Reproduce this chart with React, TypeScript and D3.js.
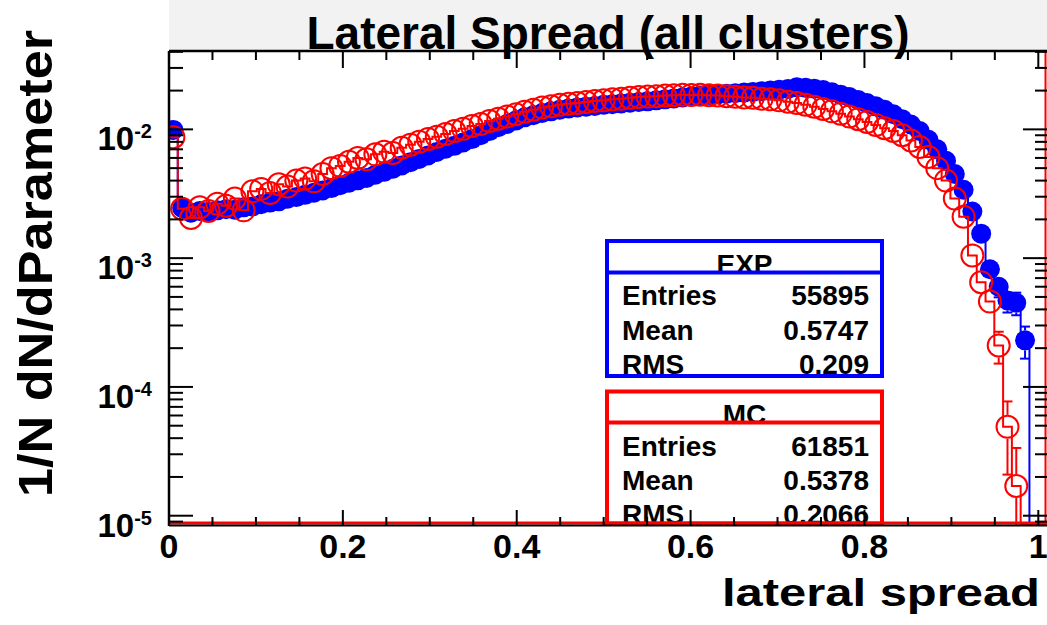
import React from "react";
import * as d3 from "d3";

const W = 1047;
const H = 625;

// histogram binning: 100 bins on [0, 1.01]
const xMin = 0;
const xMax = 1.01;
const nBins = 100;
const yMin = 8.47e-6;
const yMax = 0.0406;

const title = "Lateral Spread (all clusters)";
const xTitle = "lateral spread";
const yTitle = "1/N dN/dParameter";
const xTickValues = [0, 0.2, 0.4, 0.6, 0.8, 1];
const xTickLabels = ["0", "0.2", "0.4", "0.6", "0.8", "1"];
const yTickExps = [-5, -4, -3, -2];

// EXP (blue, filled circles) normalized bin contents
const expValues = [
  0.0099, 0.00245, 0.00225, 0.00232, 0.00228, 0.00235, 0.0024, 0.00238, 0.00248, 0.00252,
  0.00262, 0.0027, 0.00276, 0.00289, 0.00298, 0.0031, 0.00322, 0.00335, 0.0035, 0.00368,
  0.00385, 0.00402, 0.0042, 0.00445, 0.00468, 0.00495, 0.00525, 0.00556, 0.0059, 0.00628,
  0.00668, 0.00708, 0.00745, 0.0079, 0.0084, 0.009, 0.0097, 0.0104, 0.011, 0.0117,
  0.0124, 0.0129, 0.0134, 0.0138, 0.0142, 0.0145, 0.0148, 0.015, 0.0152, 0.0155,
  0.0157, 0.0159, 0.0161, 0.0163, 0.0165, 0.0168, 0.0171, 0.0174, 0.0177, 0.018,
  0.0183, 0.0185, 0.0187, 0.0189, 0.0191, 0.0193, 0.0195, 0.0198, 0.02, 0.0203,
  0.0206, 0.0212, 0.021, 0.0207, 0.0202, 0.0194, 0.0186, 0.0178, 0.0169, 0.016,
  0.0151, 0.0142, 0.0131, 0.012, 0.0109, 0.0097, 0.0083, 0.007, 0.0057, 0.0045,
  0.0034, 0.0023, 0.00155, 0.00082, 0.0006, 0.00047, 0.00045, 0.00023, 0, 0,
];

// MC (red, open circles) normalized bin contents
const mcValues = [
  0.0087, 0.00242, 0.00205, 0.00248, 0.00232, 0.00265, 0.00255, 0.0029, 0.00235, 0.0033,
  0.00345, 0.0032, 0.00375, 0.0036, 0.004, 0.00415, 0.00395, 0.0045, 0.005, 0.0052,
  0.0056, 0.006, 0.00585, 0.0064, 0.0067, 0.00655, 0.0072, 0.0076, 0.008, 0.0084,
  0.00875, 0.0092, 0.0097, 0.0101, 0.0106, 0.011, 0.0116, 0.0121, 0.0126, 0.0131,
  0.0137, 0.0142, 0.0148, 0.0151, 0.0155, 0.0158, 0.016, 0.0163, 0.0166, 0.0168,
  0.0171, 0.0173, 0.0176, 0.0178, 0.018, 0.0181, 0.0183, 0.0184, 0.0186, 0.0185,
  0.0186, 0.0184, 0.0183, 0.0181, 0.0179, 0.0177, 0.0176, 0.0173, 0.0171, 0.0168,
  0.0164, 0.016, 0.0155, 0.015, 0.0144, 0.0138, 0.0132, 0.0126, 0.012, 0.0114,
  0.0108, 0.0102, 0.0097, 0.009, 0.0082, 0.0073, 0.0061, 0.005, 0.004, 0.0029,
  0.0021, 0.00105, 0.00065, 0.00046, 0.00021, 0.000049, 0.000017, 0, 0, 0,
];

const expStats = { name: "EXP", entries: "55895", mean: "0.5747", rms: "0.209" };
const mcStats = { name: "MC", entries: "61851", mean: "0.5378", rms: "0.2066" };
const expEntries = 55895;
const mcEntries = 61851;

const FONT = "'Liberation Sans', Arial, Helvetica, sans-serif";

const frame = { left: 169, right: 1047, top: 51, bottom: 525 };

const xScale = d3.scaleLinear().domain([xMin, xMax]).range([frame.left, frame.right]);
const yScale = d3.scaleLog().domain([yMin, yMax]).range([frame.bottom, frame.top]);
const binW = (xMax - xMin) / nBins;

function yc(v: number) {
  if (v <= yMin) return frame.bottom;
  return Math.max(frame.top, yScale(v));
}

function stepPath(vals: number[]) {
  let p = `M${xScale(0)},${frame.bottom}`;
  vals.forEach((v, i) => {
    const x0 = xScale(i * binW);
    const x1 = xScale((i + 1) * binW);
    p += `L${x0},${yc(v)}L${x1},${yc(v)}`;
  });
  p += `L${xScale(xMax)},${frame.bottom}`;
  return p;
}

function Series({ vals, n, color, filled, r }: { vals: number[]; n: number; color: string; filled: boolean; r: number }) {
  const pts = vals
    .map((v, i) => ({ v, i }))
    .filter((d) => d.v > 0);
  return (
    <g>
      <path d={stepPath(vals)} fill="none" stroke={color} strokeWidth={2} />
      {pts.map(({ v, i }) => {
        const cx = xScale((i + 0.5) * binW);
        const cy = yScale(v);
        const err = Math.sqrt(v / n);
        const yHi = yc(v + err);
        const yLo = v - err > yMin ? yc(v - err) : frame.bottom;
        const segs: JSX.Element[] = [];
        if (yHi < cy - r) {
          segs.push(<line key="u" x1={cx} x2={cx} y1={cy - r} y2={yHi} stroke={color} strokeWidth={2} />);
          segs.push(<line key="uc" x1={cx - 5} x2={cx + 5} y1={yHi} y2={yHi} stroke={color} strokeWidth={2} />);
        }
        if (yLo > cy + r) {
          segs.push(<line key="d" x1={cx} x2={cx} y1={cy + r} y2={yLo} stroke={color} strokeWidth={2} />);
          if (yLo < frame.bottom)
            segs.push(<line key="dc" x1={cx - 5} x2={cx + 5} y1={yLo} y2={yLo} stroke={color} strokeWidth={2} />);
        }
        return (
          <g key={i}>
            {segs}
            <circle
              cx={cx}
              cy={cy}
              r={filled ? r : r - 1}
              fill={filled ? color : "none"}
              stroke={color}
              strokeWidth={filled ? 0 : 2}
            />
          </g>
        );
      })}
    </g>
  );
}

function StatBox({ s, color, top, bottom, sep, rows, id }: { s: typeof expStats; color: string; top: number; bottom: number; sep: number; rows: number[]; id: string }) {
  const left = 607;
  const right = 882;
  const labels = ["Entries", "Mean", "RMS"];
  const values = [s.entries, s.mean, s.rms];
  return (
    <g>
      <defs>
        <clipPath id={id + "-t"}>
          <rect x={left} y={top} width={right - left} height={sep - top} />
        </clipPath>
        <clipPath id={id + "-b"}>
          <rect x={left} y={sep} width={right - left} height={bottom - sep} />
        </clipPath>
      </defs>
      <rect x={left} y={top} width={right - left} height={bottom - top} fill="#fff" />
      <text
        x={(left + right) / 2}
        y={sep + 1}
        textAnchor="middle"
        fontFamily={FONT}
        fontWeight="bold"
        fontSize={28}
        clipPath={`url(#${id}-t)`}
      >
        {s.name}
      </text>
      <g clipPath={`url(#${id}-b)`} fontFamily={FONT} fontWeight="bold" fontSize={28}>
        {labels.map((l, k) => (
          <text key={l} x={622} y={rows[k]}>
            {l}
          </text>
        ))}
        {values.map((v, k) => (
          <text key={k} x={869} y={rows[k]} textAnchor="end">
            {v}
          </text>
        ))}
      </g>
      <rect x={left} y={top} width={right - left} height={bottom - top} fill="none" stroke={color} strokeWidth={4} />
      <line x1={left} x2={right} y1={sep} y2={sep} stroke={color} strokeWidth={4} />
    </g>
  );
}

export default function App() {
  const xMinor = d3.range(0, 21).map((k) => k * 0.05).filter((v) => Math.abs(v * 5 - Math.round(v * 5)) > 1e-6);
  const yMinor: number[] = [];
  for (let e = -6; e <= -2; e++) {
    for (let k = 2; k <= 9; k++) {
      const v = k * Math.pow(10, e);
      if (v > yMin && v < yMax) yMinor.push(v);
    }
  }
  return (
    <svg
      width={W}
      height={H}
      viewBox={`0 0 ${W} ${H}`}
      style={{ position: "fixed", left: 0, top: 0, background: "#fff" }}
    >
      <rect x={0} y={0} width={W} height={H} fill="#fff" />
      <rect x={frame.left} y={0} width={frame.right - frame.left} height={frame.top} fill="#f2f2f2" />

      <defs>
        <clipPath id="plotclip">
          <rect x={frame.left} y={frame.top} width={frame.right - frame.left} height={frame.bottom - frame.top + 1} />
        </clipPath>
      </defs>

      <g clipPath="url(#plotclip)">
        <Series vals={expValues} n={expEntries} color="#0000ff" filled={true} r={10} />
        <Series vals={mcValues} n={mcEntries} color="#ff0000" filled={false} r={12} />
      </g>

      <StatBox s={expStats} color="#0000ff" top={241} bottom={376} sep={272.5} rows={[305, 340, 374]} id="exp" />
      <StatBox s={mcStats} color="#ff0000" top={391.5} bottom={523.5} sep={422.5} rows={[456, 490, 524]} id="mc" />

      {/* red histogram baseline and right edge */}
      <line x1={frame.left} x2={frame.right} y1={523} y2={523} stroke="#ff0000" strokeWidth={3} />
      <line x1={1045.5} x2={1045.5} y1={frame.top} y2={frame.bottom} stroke="#ff0000" strokeWidth={2} />

      {/* frame */}
      <line x1={frame.left} x2={frame.left} y1={frame.top} y2={frame.bottom + 1} stroke="#000" strokeWidth={2.5} />
      <line x1={frame.left} x2={frame.right} y1={frame.top} y2={frame.top} stroke="#000" strokeWidth={2.5} />
      <line x1={frame.left} x2={frame.right} y1={frame.bottom + 0.5} y2={frame.bottom + 0.5} stroke="#000" strokeWidth={2} />

      {/* x ticks */}
      {xTickValues.map((v) => (
        <g key={"xt" + v}>
          <line x1={xScale(v)} x2={xScale(v)} y1={frame.bottom} y2={frame.bottom - 15} stroke="#000" strokeWidth={2} />
          <line x1={xScale(v)} x2={xScale(v)} y1={frame.top} y2={frame.top + 17} stroke="#000" strokeWidth={2} />
        </g>
      ))}
      {xMinor.map((v) => (
        <g key={"xm" + v}>
          <line x1={xScale(v)} x2={xScale(v)} y1={frame.bottom} y2={frame.bottom - 8} stroke="#000" strokeWidth={2} />
          <line x1={xScale(v)} x2={xScale(v)} y1={frame.top} y2={frame.top + 9} stroke="#000" strokeWidth={2} />
        </g>
      ))}
      {xTickValues.map((v, k) => (
        <text
          key={"xl" + v}
          x={xScale(v)}
          y={558}
          textAnchor="middle"
          fontFamily={FONT}
          fontWeight="bold"
          fontSize={34}
        >
          {xTickLabels[k]}
        </text>
      ))}

      {/* y ticks */}
      {yTickExps.map((e) => {
        const y = yScale(Math.pow(10, e));
        return (
          <g key={"yt" + e}>
            <line x1={frame.left} x2={frame.left + 24} y1={y} y2={y} stroke="#000" strokeWidth={2} />
            <line x1={frame.right} x2={frame.right - 24} y1={y} y2={y} stroke="#000" strokeWidth={2} />
            <text x={152} y={y + 21} textAnchor="end" fontFamily={FONT} fontWeight="bold" fontSize={33}>
              10
              <tspan fontSize={20} dy={-12}>
                {"-" + -e}
              </tspan>
            </text>
          </g>
        );
      })}
      {yMinor.map((v) => {
        const y = yScale(v);
        return (
          <g key={"ym" + v}>
            <line x1={frame.left} x2={frame.left + 14} y1={y} y2={y} stroke="#000" strokeWidth={2} />
            <line x1={frame.right} x2={frame.right - 12} y1={y} y2={y} stroke="#000" strokeWidth={2} />
          </g>
        );
      })}

      {/* titles */}
      <text
        x={608}
        y={49}
        textAnchor="middle"
        fontFamily={FONT}
        fontWeight="bold"
        fontSize={46}
        textLength={603}
        lengthAdjust="spacingAndGlyphs"
      >
        {title}
      </text>
      <text
        x={1040}
        y={606}
        textAnchor="end"
        fontFamily={FONT}
        fontWeight="bold"
        fontSize={38}
        textLength={318}
        lengthAdjust="spacingAndGlyphs"
      >
        {xTitle}
      </text>
      <text
        transform="translate(52,263.5) rotate(-90)"
        x={0}
        y={0}
        textAnchor="middle"
        fontFamily={FONT}
        fontWeight="bold"
        fontSize={48}
        textLength={467}
        lengthAdjust="spacingAndGlyphs"
      >
        {yTitle}
      </text>
    </svg>
  );
}
